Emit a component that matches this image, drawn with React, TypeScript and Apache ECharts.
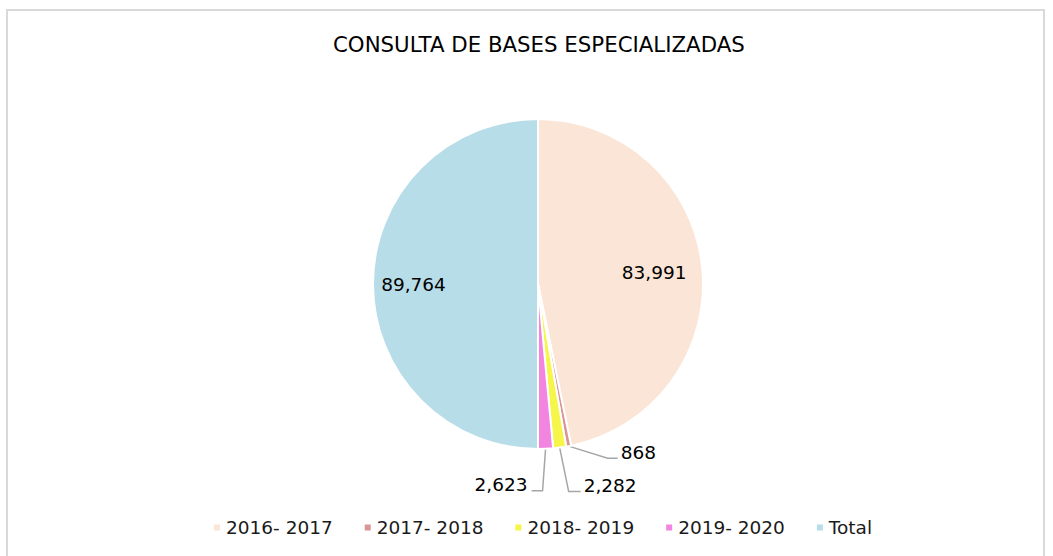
import React, { useEffect, useRef } from 'react';
import * as echarts from 'echarts';

const titleText = 'CONSULTA DE BASES ESPECIALIZADAS';
const categories = ['2016- 2017', '2017- 2018', '2018- 2019', '2019- 2020', 'Total'];
const values = [83991, 868, 2282, 2623, 89764];
const colors = ['#FBE5D6', '#D99694', '#F5F54A', '#F285E0', '#B7DDE8'];

const FONT = 'DejaVu Sans';

// inside-label offsets (px) for big slices
const insideOffsets: Record<number, [number, number]> = {
  0: [31, -3],
  4: [-39, 0],
};
// leader-line shape for small slices: [dx1, dy1, dx2, labelDy]
const leaders: Record<number, [number, number, number, number]> = {
  1: [39, 12, 10, -6],
  2: [9, 44, 12, -6],
  3: [-3, 42, -11, -6],
};

const fmt = (v: number) => v.toLocaleString('en-US');

export default function App() {
  const ref = useRef<HTMLDivElement>(null);
  useEffect(() => {
    if (!ref.current) return;
    const chart = echarts.init(ref.current, undefined, { renderer: 'svg' });
    const data = categories.map((name, i) => {
      const inside = insideOffsets[i];
      return {
        name,
        value: values[i],
        itemStyle: { color: colors[i] },
        label: inside
          ? { position: 'inside', offset: inside }
          : { position: 'outside' },
        labelLine: { show: !inside },
      };
    });
    chart.setOption({
      animation: false,
      backgroundColor: '#ffffff',
      title: {
        text: titleText,
        left: 328,
        top: 29,
        textStyle: { fontFamily: FONT, fontSize: 21.3, fontWeight: 'normal', color: '#000' },
      },
      legend: {
        data: categories,
        left: 207,
        top: 513,
        icon: 'rect',
        itemWidth: 8,
        itemHeight: 8,
        itemGap: 30,
        textStyle: { fontFamily: FONT, fontSize: 18.5, color: '#1a1a1a' },
      },
      graphic: [
        {
          type: 'rect',
          shape: { x: 7, y: 10, width: 1037, height: 600 },
          style: { fill: 'none', stroke: '#d9d9d9', lineWidth: 2 },
          silent: true,
        },
      ],
      series: [
        {
          type: 'pie',
          center: [538, 284],
          radius: 165,
          startAngle: 90,
          clockwise: true,
          avoidLabelOverlap: false,
          itemStyle: { borderColor: '#ffffff', borderWidth: 2 },
          label: {
            show: true,
            formatter: (p: any) => fmt(p.value),
            fontFamily: FONT,
            fontSize: 18.5,
            color: '#000',
          },
          labelLine: {
            show: true,
            length: 20,
            length2: 12,
            lineStyle: { color: '#A6A6A6', width: 1.5 },
          },
          labelLayout: (p: any) => {
            const lg = leaders[p.dataIndex];
            const pts = p.labelLinePoints;
            if (!lg || !pts) return {};
            const s = pts[0];
            const e = [s[0] + lg[0], s[1] + lg[1]];
            const f = [e[0] + lg[2], e[1]];
            const right = lg[2] > 0;
            return {
              x: f[0] + (right ? 3 : -4),
              y: f[1] + lg[3],
              align: right ? 'left' : 'right',
              verticalAlign: 'middle',
              labelLinePoints: [s, e, f],
            };
          },
          data,
        },
      ],
    });
    return () => chart.dispose();
  }, []);
  return (
    <div
      ref={ref}
      style={{ position: 'fixed', left: 0, top: 0, width: 1053, height: 556 }}
    />
  );
}
